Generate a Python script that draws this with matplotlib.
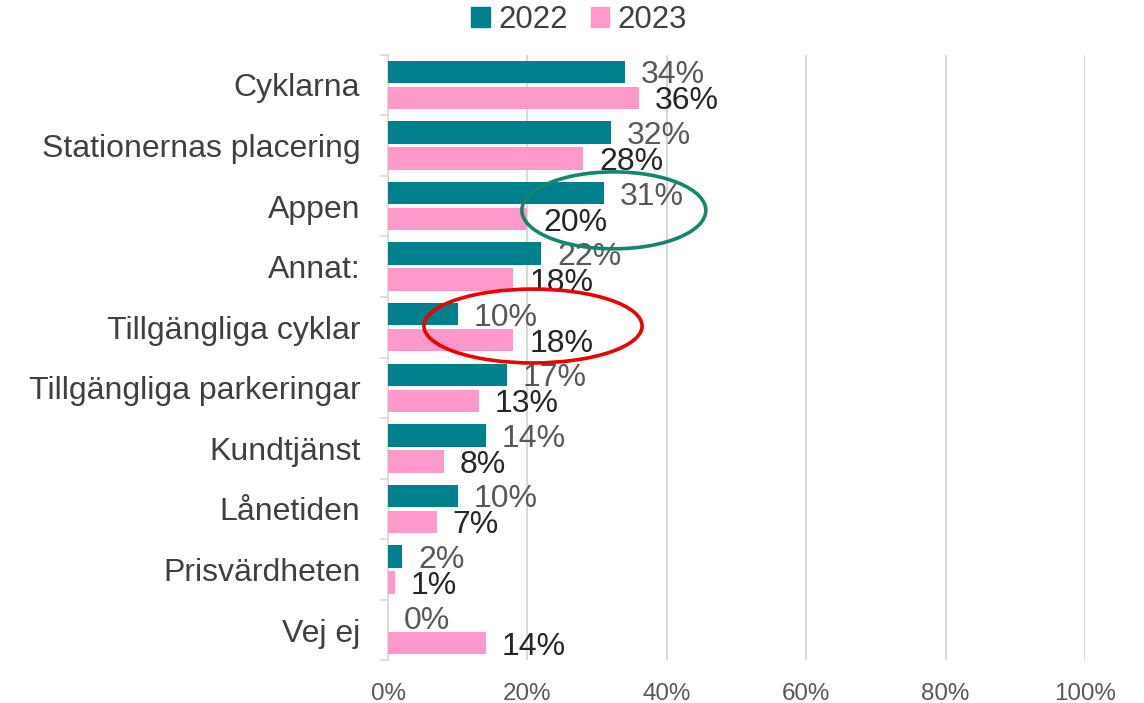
import numpy as np
import matplotlib
matplotlib.use("Agg")
import matplotlib.pyplot as plt
from matplotlib.patches import Ellipse, Patch

plt.rcParams['font.family'] = ['Liberation Sans', 'DejaVu Sans']

# data (percent)
categories = ["Cyklarna", "Stationernas placering", "Appen", "Annat:",
              "Tillgängliga cyklar", "Tillgängliga parkeringar", "Kundtjänst",
              "Lånetiden", "Prisvärdheten", "Vej ej"]
v2022 = [34, 32, 31, 22, 10, 17, 14, 10, 2, 0]
v2023 = [36, 28, 20, 18, 18, 13, 8, 7, 1, 14]
xticks = [0, 20, 40, 60, 80, 100]

c2022 = "#007F8C"
c2023 = "#FF99CC"

fig = plt.figure(figsize=(11.44, 7.03), dpi=100)
ax = fig.add_axes([0.3392, 0.0607, 0.9484 - 0.3392, 0.9222 - 0.0607])

y = np.arange(len(categories))
h = 0.37
off = 0.215
ax.barh(y - off, v2022, height=h, color=c2022, zorder=3)
ax.barh(y + off, v2023, height=h, color=c2023, zorder=3)

# value labels
for yi, v in zip(y, v2022):
    ax.text(v + 2.3, yi - off, f"{v}%", va="center_baseline", ha="left",
            fontsize=23, color="#595959", zorder=4)
for yi, v in zip(y, v2023):
    ax.text(v + 2.3, yi + off, f"{v}%", va="center_baseline", ha="left",
            fontsize=23, color="#262626", zorder=4)

ax.set_xlim(0, 100)
ax.set_ylim(len(categories) - 0.5, -0.5)
ax.set_xticks(xticks)
ax.set_xticklabels([f"{t}%" for t in xticks])
ax.set_yticks(y)
ax.set_yticklabels(categories)
ax.set_yticks(np.arange(len(categories) + 1) - 0.5, minor=True)

ax.tick_params(axis="x", length=0, pad=16, labelsize=17.4, labelcolor="#595959")
ax.tick_params(axis="y", which="major", length=0, pad=20, labelsize=23,
               labelcolor="#404040")
ax.tick_params(axis="y", which="minor", length=6, width=1.2, color="#D9D9D9")

ax.grid(axis="x", color="#D9D9D9", linewidth=1.5, zorder=0)
for s in ["top", "right", "bottom"]:
    ax.spines[s].set_visible(False)
ax.spines["left"].set_color("#D9D9D9")
ax.spines["left"].set_linewidth(1.2)

# highlight ellipses
ax.add_patch(Ellipse((32.4, 2.07), 26.4, 1.27, fill=False, edgecolor="#14866D",
                     linewidth=2.6, zorder=5, clip_on=False))
ax.add_patch(Ellipse((20.8, 3.98), 31.3, 1.22, fill=False, edgecolor="#EE0000",
                     linewidth=2.6, zorder=5, clip_on=False))

handles = [Patch(color=c2022, label="2022"), Patch(color=c2023, label="2023")]
fig.legend(handles=handles, loc="center", bbox_to_anchor=(579 / 1144, 1 - 20 / 703),
           ncol=2, frameon=False, fontsize=22.4, handlelength=0.6, handleheight=0.6,
           handletextpad=0.25, columnspacing=0.75, labelcolor="#404040")

fig.savefig("out.png", dpi=100)
